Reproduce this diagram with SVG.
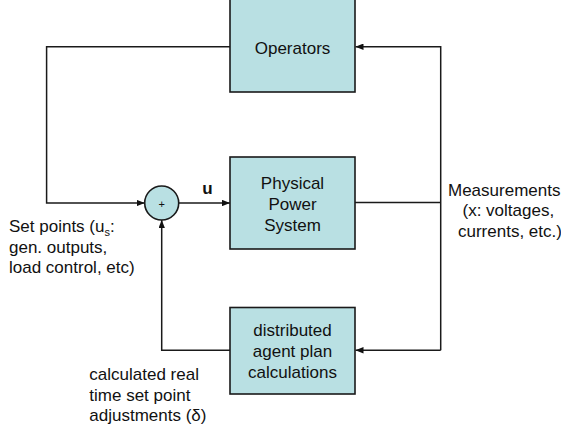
<svg xmlns="http://www.w3.org/2000/svg" width="561" height="431" viewBox="0 0 561 431">
<defs>
<style>
.box{fill:#b9e0e3;stroke:#1a1a1a;stroke-width:1.6}
.ln{fill:none;stroke:#1a1a1a;stroke-width:1.5}
.t{font-family:"Liberation Sans",Arial,sans-serif;font-size:17px;fill:#111}
.c{text-anchor:middle}
</style>
<marker id="ah" viewBox="0 0 10 8" refX="10" refY="4" markerWidth="8" markerHeight="6.4" markerUnits="userSpaceOnUse" orient="auto">
<path d="M0,0 L10,4 L0,8 Z" fill="#111"/>
</marker>
</defs>
<rect width="561" height="431" fill="#ffffff"/>
<g id="connectors">
<polyline class="ln" points="230,46.7 46.6,46.7 46.6,203 144.7,203" marker-end="url(#ah)"/>
<line class="ln" x1="178.7" y1="203" x2="230" y2="203" marker-end="url(#ah)"/>
<line class="ln" x1="355" y1="202.5" x2="440.7" y2="202.5"/>
<polyline class="ln" points="440.7,350.3 440.7,46.7 355.5,46.7" marker-end="url(#ah)"/>
<line class="ln" x1="440.7" y1="350.3" x2="355.5" y2="350.3" marker-end="url(#ah)"/>
<polyline class="ln" points="230,350.3 161.7,350.3 161.7,220" marker-end="url(#ah)"/>
</g>
<g id="operators">
<rect class="box" x="230" y="-1" width="125" height="93"/>
<text class="t c" x="292.5" y="53.5">Operators</text>
</g>
<g id="physical">
<rect class="box" x="230" y="157" width="125" height="92"/>
<text class="t c" x="292.5" y="188.5">Physical</text>
<text class="t c" x="292.5" y="209.5">Power</text>
<text class="t c" x="292.5" y="230.5">System</text>
</g>
<g id="distributed">
<rect class="box" x="230" y="307.5" width="125" height="86.5"/>
<text class="t c" x="292.5" y="335.5">distributed</text>
<text class="t c" x="292.5" y="356.5">agent plan</text>
<text class="t c" x="292.5" y="377.5">calculations</text>
</g>
<g id="sum">
<circle class="box" cx="161.7" cy="203" r="17"/>
<text class="t c" x="161.7" y="207.5" style="font-size:11px">+</text>
</g>
<g id="labels">
<text class="t c" x="207.5" y="194.3" style="font-weight:bold">u</text>
<text class="t" x="9" y="231.7">Set points (u<tspan font-size="11" dy="4">s</tspan><tspan dy="-4">:</tspan></text>
<text class="t" x="9" y="252.5">gen. outputs,</text>
<text class="t" x="9" y="273.3">load control, etc)</text>
<text class="t" x="448" y="195.5">Measurements</text>
<text class="t" x="462.5" y="216.3">(x: voltages,</text>
<text class="t" x="458" y="236.7">currents, etc.)</text>
<text class="t" x="89.3" y="380">calculated real</text>
<text class="t" x="89.3" y="400.5">time set point</text>
<text class="t" x="89.3" y="421">adjustments (δ)</text>
</g>
</svg>
